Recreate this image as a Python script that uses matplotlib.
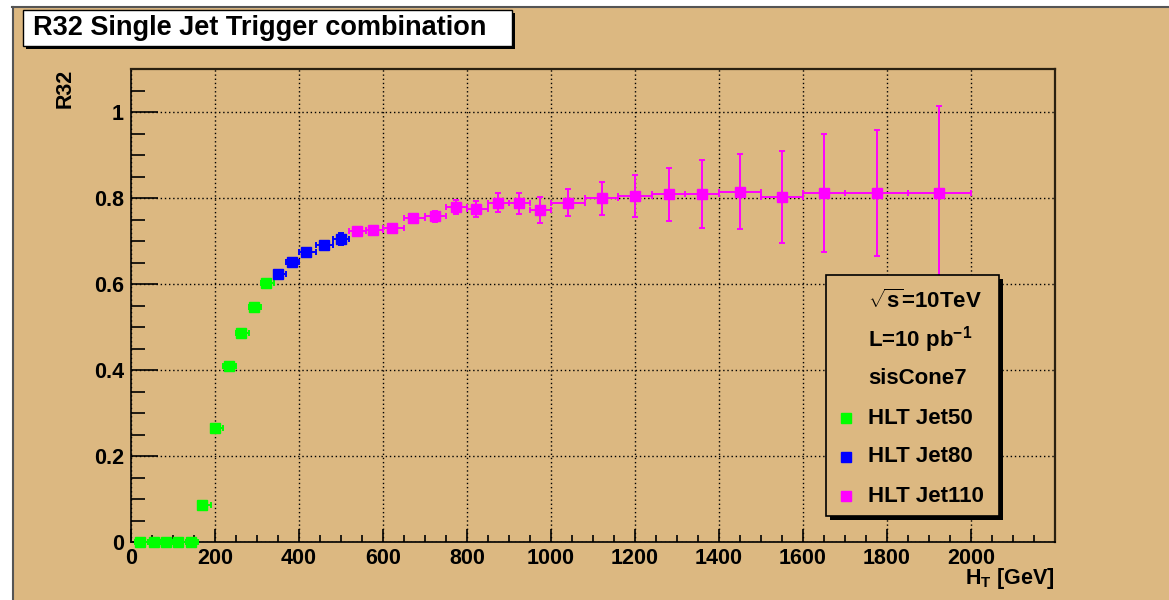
import matplotlib.pyplot as plt
from matplotlib.patches import Rectangle
from matplotlib.lines import Line2D
from matplotlib.ticker import MultipleLocator

plt.rcParams['font.family'] = ['Liberation Sans', 'DejaVu Sans']
plt.rcParams['font.weight'] = 'bold'
plt.rcParams['mathtext.fontset'] = 'custom'
plt.rcParams['mathtext.rm'] = 'Liberation Sans:bold'
plt.rcParams['mathtext.default'] = 'rm'

# HLT Jet50
jet50_edges = [10, 40, 70, 100, 130, 160, 190, 220, 250, 280, 310, 340]
jet50_x = [21, 54, 83, 112, 142, 170, 200, 234, 263, 292, 321]
jet50_y = [0.0, 0.0, 0.0, 0.0, 0.0, 0.087, 0.266, 0.410, 0.486, 0.546, 0.602]
jet50_err = [0.002, 0.002, 0.002, 0.002, 0.002, 0.004, 0.004, 0.004, 0.005, 0.005, 0.005]

# HLT Jet80
jet80_edges = [340, 370, 400, 440, 480, 520]
jet80_x = [349, 384, 416, 459, 499]
jet80_y = [0.624, 0.651, 0.675, 0.691, 0.705]
jet80_err = [0.004, 0.005, 0.006, 0.008, 0.014]

# HLT Jet110
jet110_edges = [520, 560, 600, 650, 700, 750, 800, 850, 900, 950, 1000,
                1080, 1160, 1240, 1320, 1400, 1500, 1600, 1700, 1850, 2000]
jet110_x = [537, 576, 622, 671, 723, 773, 822, 873, 923, 973, 1040,
            1121, 1200, 1282, 1360, 1451, 1549, 1650, 1775, 1924]
jet110_y = [0.723, 0.726, 0.731, 0.753, 0.758, 0.780, 0.775, 0.790, 0.788, 0.773,
            0.790, 0.800, 0.806, 0.809, 0.809, 0.815, 0.803, 0.812, 0.812, 0.812]
jet110_err = [0.005, 0.006, 0.007, 0.009, 0.013, 0.016, 0.019, 0.021, 0.024, 0.031,
              0.032, 0.038, 0.049, 0.061, 0.079, 0.087, 0.107, 0.138, 0.146, 0.202]

series = [
    ('HLT Jet50', jet50_edges, jet50_x, jet50_y, jet50_err, '#00ff00'),
    ('HLT Jet80', jet80_edges, jet80_x, jet80_y, jet80_err, '#0000ff'),
    ('HLT Jet110', jet110_edges, jet110_x, jet110_y, jet110_err, '#ff00ff'),
]

tan = '#dcb881'
W, H = 1169, 600

fig = plt.figure(figsize=(W / 100, H / 100), dpi=100, facecolor=tan)


def fx(px):
    return px / W


def fy(py):
    return 1 - py / H


# window border (white outside, grey edge)
fig.patches.append(Rectangle((0, fy(6)), 1, 6 / H, transform=fig.transFigure,
                             facecolor='white', edgecolor='none'))
fig.patches.append(Rectangle((0, 0), fx(12), 1, transform=fig.transFigure,
                             facecolor='white', edgecolor='none'))
fig.add_artist(Line2D([fx(12), 1], [fy(7), fy(7)], color='#555555', lw=1.5))
fig.add_artist(Line2D([fx(13), fx(13)], [0, fy(7)], color='#555555', lw=1.5))

ax = fig.add_axes([fx(131), fy(542.3), fx(1055 - 131), (542.3 - 69.2) / H])
ax.set_facecolor(tan)

for label, edges, x, y, err, color in series:
    lo = [xi - e for xi, e in zip(x, edges[:-1])]
    hi = [e - xi for xi, e in zip(x, edges[1:])]
    ax.errorbar(x, y, xerr=[lo, hi], yerr=err, fmt='s', color=color, ms=7.5,
                elinewidth=1.4, capsize=2.5, capthick=1.4, clip_on=False, zorder=3)

ax.set_xlim(0, 2200)
ax.set_ylim(0, 1.1)
ax.set_xticks(range(0, 2001, 200))
ax.set_yticks([0, 0.2, 0.4, 0.6, 0.8, 1.0])
ax.set_yticklabels(['0', '0.2', '0.4', '0.6', '0.8', '1'])
ax.xaxis.set_minor_locator(MultipleLocator(50))
ax.yaxis.set_minor_locator(MultipleLocator(0.05))
ax.tick_params(which='both', direction='in', top=False, right=False,
               labelsize=15.5, width=1.2, color='black')
ax.tick_params(axis='y', which='major', length=19.5, pad=5)
ax.tick_params(axis='y', which='minor', length=10)
ax.tick_params(axis='x', which='major', length=9.5, pad=4)
ax.tick_params(axis='x', which='minor', length=4.7)
ax.grid(True, which='major', color='black', linestyle=(0, (1, 2)), linewidth=1)
for side in ['left', 'bottom']:
    ax.spines[side].set_linewidth(1.2)
for side in ['top', 'right']:
    ax.spines[side].set_linewidth(1.6)
    ax.spines[side].set_color('#2a2010')

ax.set_ylabel('R32', fontsize=15.5, fontweight='bold', loc='top')
ax.yaxis.set_label_coords((76 - 131) / 924, 1.0)
ax.set_xlabel(r'H$_T$ [GeV]', fontsize=15.5, fontweight='bold', loc='right')
ax.xaxis.set_label_coords(1.0, (542.3 - 566) / 473.1)

# title box
fig.patches.append(Rectangle((fx(26), fy(49)), fx(489), 36 / H, transform=fig.transFigure,
                             facecolor='black', edgecolor='none'))
fig.patches.append(Rectangle((fx(23), fy(46)), fx(489), 36 / H, transform=fig.transFigure,
                             facecolor='white', edgecolor='black', linewidth=1))
fig.text(fx(33), fy(28), 'R32 Single Jet Trigger combination', fontsize=19.5,
         fontweight='bold', va='center', ha='left')

# legend box
fig.patches.append(Rectangle((fx(830), fy(520)), fx(173), 241 / H, transform=fig.transFigure,
                             facecolor='black', edgecolor='none', zorder=5))
fig.patches.append(Rectangle((fx(826), fy(516)), fx(173), 241 / H, transform=fig.transFigure,
                             facecolor=tan, edgecolor='black', linewidth=1.2, zorder=6))
legend_rows = [r'$\sqrt{s}$=10TeV', r'L=10 pb$^{-1}$', 'sisCone7']
legend_rows += [s[0] for s in series]
row_y = [301, 340, 379, 418, 457, 496]
for i, (text, py) in enumerate(zip(legend_rows, row_y)):
    fig.text(fx(868), fy(py), text, fontsize=16, fontweight='bold',
             va='center', ha='left', zorder=7)
    if i >= 3:
        fig.add_artist(Line2D([fx(846)], [fy(py)], marker='s', ms=6.5, linestyle='none',
                              color=series[i - 3][5], transform=fig.transFigure, zorder=7))

fig.savefig('out.png', dpi=100, facecolor=tan)
